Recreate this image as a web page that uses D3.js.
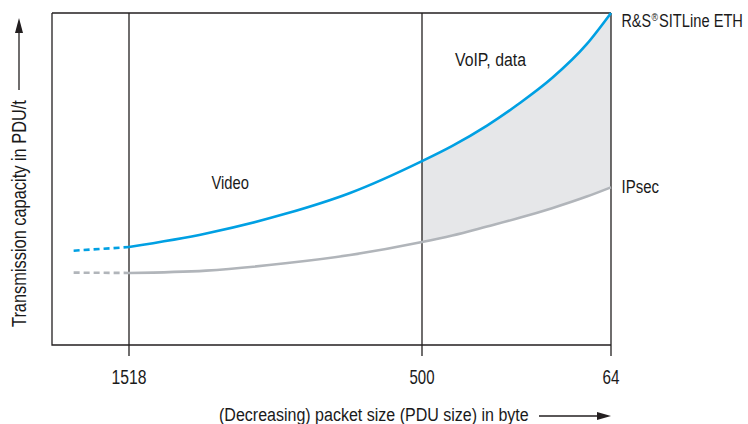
<!DOCTYPE html>
<html>
<head>
<meta charset="utf-8">
<script src="https://cdn.jsdelivr.net/npm/d3@7/dist/d3.min.js"></script>
<style>
  html, body { margin: 0; padding: 0; background: #fff; }
  svg { display: block; }
  text { font-family: "Liberation Sans", Arial, sans-serif; fill: #1a1a1a; }
</style>
</head>
<body>
<svg id="chart" width="748" height="424"></svg>
<script>
// ---------- data ----------
const tickSizes = [1518, 500, 64];
const tickLabels = ["1518", "500", "64"];
const packetSizes   = [1710, 1518, 1250, 975, 750, 500, 430, 350, 275, 200, 120, 64];
const sitlineValues = [28.4, 29.5, 33.6, 39.5, 45.8, 55.4, 60.0, 66.1, 72.8, 80.4, 90.6, 100];
const ipsecValues   = [21.8, 21.7, 22.4, 24.6, 27.1, 31.0, 33.0, 35.7, 38.3, 41.2, 44.7, 47.5];
const dashedUntil = 1518;   // curves are dashed for sizes above this
const shadeFrom = 500;      // shaded gain region for sizes at or below this
const regionLabels = ["Video", "VoIP, data"];
const seriesNames = ["R&S®SITLine ETH", "IPsec"];
const xTitle = "(Decreasing) packet size (PDU size) in byte";
const yTitle = "Transmission capacity in PDU/t";

// ---------- layout ----------
const M = { left: 52, right: 611, top: 13, bottom: 345 };
const svg = d3.select("#chart");

const x = d3.scaleLinear()
  .domain([1785, 1518, 500, 64])
  .range([M.left, 129, 422, M.right]);
const y = d3.scaleLinear().domain([0, 100]).range([M.bottom, M.top]);

const blue = "#00a0e3", grey = "#b1b5ba", fillGrey = "#e6e7e9", ink = "#231f20";

const pts = (vals) => packetSizes.map((s, i) => ({ s, v: vals[i] }));
const blueData = pts(sitlineValues), greyData = pts(ipsecValues);

// shaded area
const areaData = packetSizes.map((s, i) => ({ s, hi: sitlineValues[i], lo: ipsecValues[i] }))
  .filter(d => d.s <= shadeFrom);
svg.append("path")
  .datum(areaData)
  .attr("fill", fillGrey)
  .attr("d", d3.area().x(d => x(d.s)).y0(d => y(d.lo)).y1(d => y(d.hi)).curve(d3.curveMonotoneX));

// frame
const g = svg.append("g").attr("stroke", ink).attr("stroke-width", 1.3).attr("fill", "none");
g.append("path").attr("d", `M${M.left},${M.top}H${M.right}M${M.left},${M.top}V${M.bottom}H${M.right}`);
tickSizes.forEach(s => {
  g.append("line").attr("x1", x(s)).attr("x2", x(s)).attr("y1", M.top).attr("y2", M.bottom + 11);
});

// curves
const line = d3.line().x(d => x(d.s)).y(d => y(d.v)).curve(d3.curveMonotoneX);
[[blueData, blue], [greyData, grey]].forEach(([data, col]) => {
  svg.append("path").datum(data.filter(d => d.s <= dashedUntil))
    .attr("fill", "none").attr("stroke", col).attr("stroke-width", 2.6).attr("d", line);
  svg.append("path").datum(data.filter(d => d.s >= dashedUntil))
    .attr("fill", "none").attr("stroke", col).attr("stroke-width", 2.6)
    .attr("stroke-dasharray", "6,4").attr("d", d3.line().x(d => x(d.s)).y(d => y(d.v)));
});

// condensed text: draw at natural size, then squeeze horizontally to the wanted width
function label(sel, txt, px, py, size, width, anchor, rotate) {
  const grp = sel.append("g");
  const t = grp.append("text").attr("font-size", size).text(txt);
  if (anchor) t.attr("text-anchor", anchor);
  const natural = t.node().getComputedTextLength() || width;
  const sx = width / natural;
  grp.attr("transform", `translate(${px},${py})${rotate ? ` rotate(${rotate})` : ""} scale(${sx},1)`);
  return grp;
}

// tick labels
const tickWidths = [35, 25, 17];
tickSizes.forEach((s, i) => label(svg, tickLabels[i], x(s), 384, 21, tickWidths[i], "middle"));

// region labels
label(svg, regionLabels[0], 211.5, 188.5, 19, 37.5);
label(svg, regionLabels[1], 455, 66, 19, 71);

// series labels
const last = packetSizes.length - 1;
const yEnd1 = y(sitlineValues[last]) + 14;
const parts = seriesNames[0].split("®");
label(svg, parts[0], 621.5, yEnd1, 19, 29.5);
label(svg, "®", 651.5, yEnd1 - 6, 10, 6.5);
label(svg, parts[1], 659, yEnd1, 19, 84);
label(svg, seriesNames[1], 621.5, y(ipsecValues[last]) + 6, 19, 37.5);

// axis titles with arrows
label(svg, xTitle, 219, 421, 19, 310);
svg.append("line").attr("x1", 539).attr("x2", 600).attr("y1", 416).attr("y2", 416).attr("stroke", ink).attr("stroke-width", 1.3);
svg.append("path").attr("d", "M611,416L597,412L597,420Z").attr("fill", ink);

label(svg, yTitle, 26, 327, 19.5, 227, null, -90);
svg.append("line").attr("x1", 19).attr("x2", 19).attr("y1", 90).attr("y2", 30).attr("stroke", ink).attr("stroke-width", 1.3);
svg.append("path").attr("d", "M19,18L15,33L23,33Z").attr("fill", ink);
</script>
</body>
</html>
